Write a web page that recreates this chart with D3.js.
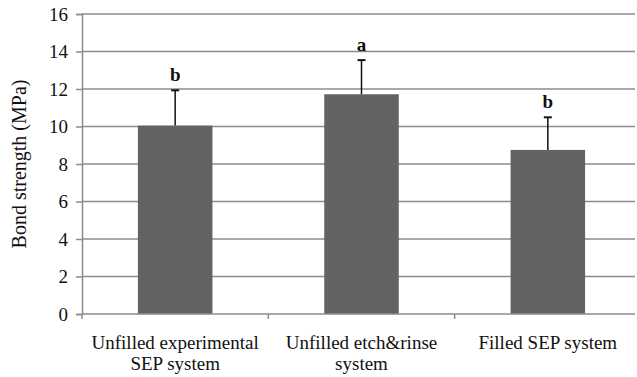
<!DOCTYPE html>
<html lang="en">
<head>
  <meta charset="UTF-8">
  <title>Bond strength</title>
  <script src="https://d3js.org/d3.v7.min.js"></script>
  <style>
    body { margin: 0; background: #fff; }
  </style>
</head>
<body>
<svg width="637" height="377"></svg>
<script>
  // data
  const categories = [
    ["Unfilled experimental", "SEP system"],
    ["Unfilled etch&rinse", "system"],
    ["Filled SEP system"]
  ];
  const means = [10.05, 11.72, 8.75];
  const sds = [1.88, 1.82, 1.74];
  const groups = ["b", "a", "b"];
  const yTicks = [0, 2, 4, 6, 8, 10, 12, 14, 16];

  const FONT = "'Liberation Serif', 'Times New Roman', Times, serif";
  const svg = d3.select("svg");
  const margin = {left: 82, right: 641, top: 14, bottom: 314};
  const gridEnd = 635;

  const x = d3.scaleBand()
          .domain(d3.range(categories.length))
          .range([margin.left, margin.right])
          .paddingInner(0)
          .paddingOuter(0);

  const y = d3.scaleLinear().domain([0, 16]).range([margin.bottom, margin.top]);

  // gridlines
  svg.append("g")
          .selectAll("line")
          .data(yTicks.filter(d => d > 0))
          .enter()
          .append("line")
          .attr("x1", margin.left)
          .attr("x2", gridEnd)
          .attr("y1", d => y(d))
          .attr("y2", d => y(d))
          .attr("stroke", "#8c8c8c")
          .attr("stroke-width", 1.5);

  // y axis
  const yAxis = svg.append("g")
          .attr("transform", `translate(${margin.left},0)`)
          .call(d3.axisLeft(y).tickValues(yTicks).tickSize(6).tickPadding(8));
  yAxis.attr("font-family", null).attr("font-size", null);
  yAxis.select(".domain").attr("stroke", "#8c8c8c").attr("stroke-width", 1.5);
  yAxis.selectAll(".tick line").attr("stroke", "#8c8c8c").attr("stroke-width", 1.5);
  yAxis.selectAll(".tick text")
          .style("font-family", FONT)
          .style("font-size", "19px")
          .attr("fill", "#111");

  // bars
  const bw = x.bandwidth() * 0.4;
  svg.append("g")
          .selectAll("rect")
          .data(means)
          .enter()
          .append("rect")
          .attr("x", (d, i) => x(i) + x.bandwidth() / 2 - bw / 2)
          .attr("y", d => y(d))
          .attr("width", bw)
          .attr("height", d => margin.bottom - y(d))
          .attr("fill", "#636363");

  // x baseline and category separators
  svg.append("line")
          .attr("x1", margin.left).attr("x2", gridEnd)
          .attr("y1", margin.bottom).attr("y2", margin.bottom)
          .attr("stroke", "#8c8c8c").attr("stroke-width", 1.5);
  svg.append("g")
          .selectAll("line")
          .data(d3.range(categories.length))
          .enter()
          .append("line")
          .attr("x1", d => x(d)).attr("x2", d => x(d))
          .attr("y1", margin.bottom).attr("y2", margin.bottom + 5)
          .attr("stroke", "#8c8c8c").attr("stroke-width", 1.5);

  // error bars (upper only)
  const err = svg.append("g");
  means.forEach((m, i) => {
    const cx = x(i) + x.bandwidth() / 2;
    err.append("line")
            .attr("x1", cx).attr("x2", cx)
            .attr("y1", y(m)).attr("y2", y(m + sds[i]))
            .attr("stroke", "#111").attr("stroke-width", 1.5);
    err.append("line")
            .attr("x1", cx - 4).attr("x2", cx + 4)
            .attr("y1", y(m + sds[i])).attr("y2", y(m + sds[i]))
            .attr("stroke", "#111").attr("stroke-width", 2);
  });

  // significance letters
  svg.append("g")
          .selectAll("text")
          .data(groups)
          .enter()
          .append("text")
          .attr("x", (d, i) => x(i) + x.bandwidth() / 2)
          .attr("y", (d, i) => y(means[i] + sds[i]) - 9)
          .attr("text-anchor", "middle")
          .attr("fill", "#111")
          .style("font-family", FONT)
          .style("font-size", "19px")
          .style("font-weight", "bold")
          .text(d => d);

  // category labels
  const labels = svg.append("g");
  categories.forEach((lines, i) => {
    const cx = x(i) + x.bandwidth() / 2;
    const t = labels.append("text")
            .attr("x", cx)
            .attr("y", 349)
            .attr("text-anchor", "middle")
            .attr("fill", "#111")
            .style("font-family", FONT)
            .style("font-size", "19px");
    lines.forEach((s, j) => {
      t.append("tspan")
              .attr("x", cx)
              .attr("dy", j === 0 ? 0 : 21)
              .text(s);
    });
  });

  // y title
  svg.append("text")
          .attr("transform", `translate(26,${(margin.top + margin.bottom) / 2}) rotate(-90)`)
          .attr("text-anchor", "middle")
          .attr("fill", "#111")
          .style("font-family", FONT)
          .style("font-size", "20px")
          .text("Bond strength (MPa)");
</script>
</body>
</html>
